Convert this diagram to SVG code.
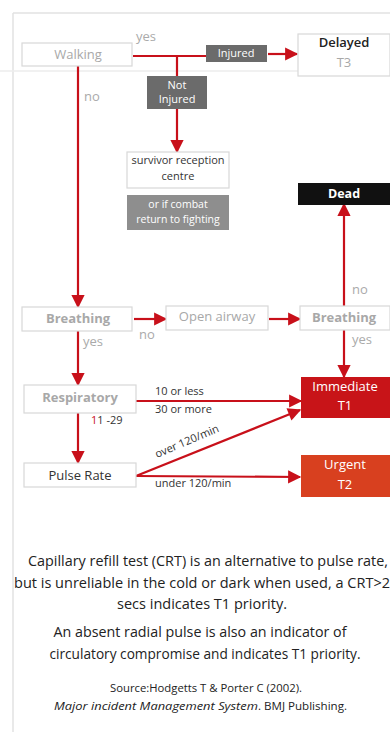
<svg xmlns="http://www.w3.org/2000/svg" width="390" height="732" viewBox="0 0 390 732">
<defs>
<style>
.box{fill:#fff;stroke:#d8d8d8;stroke-width:1.2}
.lbl{font-family:"Open Sans","Noto Sans",sans-serif;font-size:13px;fill:#a8a8a8;text-anchor:middle}
.dk{font-family:"Open Sans","Noto Sans",sans-serif;font-size:11px;fill:#333}
.wt{font-family:"Open Sans","Noto Sans",sans-serif;fill:#fff;text-anchor:middle}
.yn{font-family:"Open Sans","Noto Sans",sans-serif;font-size:13px;fill:#aaa}
.ln{stroke:#c8101a;stroke-width:2.2;fill:none}
.ar{stroke:#c8101a;stroke-width:2.2;fill:none;marker-end:url(#ah)}
.note{font-family:"Open Sans","Noto Sans",sans-serif;font-size:14px;fill:#222;text-anchor:middle}
.src{font-family:"Open Sans","Noto Sans",sans-serif;font-size:11.5px;fill:#222;text-anchor:start}
</style>
<marker id="ah" viewBox="0 0 10 10" refX="9" refY="5" markerWidth="6.5" markerHeight="6" orient="auto" markerUnits="strokeWidth">
<path d="M0,0 L10,5 L0,10 z" fill="#c8101a"/>
</marker>
</defs>
<rect width="390" height="732" fill="#fff"/>
<path d="M13,13 V732 M13,13 H390" stroke="#e2e2e2" stroke-width="1.5" fill="none"/>
<path d="M0,71 H390" stroke="#ececec" stroke-width="1.5"/>

<g id="connectors">
<path class="ln" d="M133,56 H206"/>
<path class="ar" d="M268,54 H297"/>
<path class="ln" d="M177,56 V76"/>
<path class="ar" d="M177,109 V152"/>
<path class="ar" d="M78,66 V307"/>
<path class="ar" d="M134,319 H166"/>
<path class="ar" d="M269,319 H300"/>
<path class="ar" d="M344,306 V204"/>
<path class="ar" d="M344,330 V377"/>
<path class="ar" d="M78,331 V385"/>
<path class="ar" d="M136,401 H301"/>
<path class="ar" d="M78,413 V463"/>
<path class="ar" d="M136,476 L300,410"/>
<path class="ar" d="M136,476 L300,477"/>
</g>

<g id="walking"><rect class="box" x="22" y="43" width="110" height="23"/><text class="lbl" x="78" y="59">Walking</text></g>
<text class="yn" x="136" y="41">yes</text>
<text class="yn" x="84" y="101">no</text>
<g id="injured"><rect x="206" y="45" width="61" height="17" fill="#6b6b6b"/><text class="wt" x="236" y="57" font-size="11">Injured</text></g>
<g id="delayed"><rect class="box" x="298" y="34" width="92" height="42"/><text x="344" y="47" font-family="'Open Sans',sans-serif" font-size="13" font-weight="600" fill="#222" text-anchor="middle">Delayed</text><text class="lbl" x="344" y="67" font-size="11">T3</text></g>
<g id="notinjured"><rect x="147" y="76" width="60" height="33" fill="#6b6b6b"/><text class="wt" x="177" y="89" font-size="11">Not</text><text class="wt" x="177" y="103" font-size="11">Injured</text></g>
<g id="survivor"><rect class="box" x="127" y="152" width="102" height="36"/><text class="dk" x="178" y="164" text-anchor="middle" font-size="10.5">survivor reception</text><text class="dk" x="178" y="180" text-anchor="middle" font-size="10.5">centre</text></g>
<g id="combat"><rect x="127" y="195" width="102" height="35" fill="#8e8e8e"/><text class="wt" x="178" y="208" font-size="10.5">or if combat</text><text class="wt" x="178" y="223" font-size="10.5">return to fighting</text></g>
<g id="dead"><rect x="298" y="183" width="92" height="22" fill="#111"/><text class="wt" x="344" y="198" font-size="12.5" font-weight="bold">Dead</text></g>

<g id="breathing1"><rect class="box" x="22" y="307" width="110" height="24"/><text class="lbl" x="78" y="323" font-weight="bold" font-size="12">Breathing</text></g>
<g id="openairway"><rect class="box" x="166" y="306" width="102" height="24"/><text class="lbl" x="217" y="321">Open airway</text></g>
<g id="breathing2"><rect class="box" x="300" y="306" width="90" height="24"/><text class="lbl" x="344" y="322" font-weight="bold" font-size="12">Breathing</text></g>
<text class="yn" x="139" y="339">no</text>
<text class="yn" x="352" y="294">no</text>
<text class="yn" x="352" y="344">yes</text>
<text class="yn" x="83" y="346">yes</text>

<g id="respiratory"><rect class="box" x="24" y="385" width="112" height="28"/><text class="lbl" x="80" y="402" font-weight="bold" font-size="12">Respiratory</text></g>
<text class="dk" x="155" y="395">10 or less</text>
<text class="dk" x="155" y="413">30 or more</text>
<text class="dk" x="91" y="424" font-size="12"><tspan fill="#c8101a">1</tspan>1 -29</text>
<g id="immediate"><rect x="301" y="377" width="89" height="41" fill="#c81418"/><text class="wt" x="345" y="391" font-size="13">Immediate</text><text class="wt" x="345" y="410" font-size="13">T1</text></g>
<g id="pulserate"><rect class="box" x="24" y="463" width="112" height="24"/><text x="80" y="480" font-family="'Open Sans','Noto Sans',sans-serif" font-size="13" fill="#333" text-anchor="middle">Pulse Rate</text></g>
<text class="dk" x="157" y="458" transform="rotate(-23 157 458)">over 120/min</text>
<text class="dk" x="155" y="487">under 120/min</text>
<g id="urgent"><rect x="301" y="455" width="89" height="42" fill="#d8401f"/><text class="wt" x="345" y="469" font-size="13">Urgent</text><text class="wt" x="345" y="489" font-size="13">T2</text></g>

<g id="notes">
<text class="note" x="208" y="566" textLength="360" lengthAdjust="spacingAndGlyphs">Capillary refill test (CRT) is an alternative to pulse rate,</text>
<text class="note" x="202" y="588" textLength="376" lengthAdjust="spacingAndGlyphs">but is unreliable in the cold or dark when used, a CRT&gt;2</text>
<text class="note" x="202" y="609" textLength="170" lengthAdjust="spacingAndGlyphs">secs indicates T1 priority.</text>
<text class="note" x="200" y="637" textLength="293" lengthAdjust="spacingAndGlyphs">An absent radial pulse is also an indicator of</text>
<text class="note" x="205" y="659" textLength="311" lengthAdjust="spacingAndGlyphs">circulatory compromise and indicates T1 priority.</text>
<text class="src" x="110" y="692" textLength="192" lengthAdjust="spacingAndGlyphs">Source:Hodgetts T &amp; Porter C (2002).</text>
<text class="src" x="54" y="710" font-style="italic" textLength="204" lengthAdjust="spacingAndGlyphs">Major incident Management System</text>
<text class="src" x="258" y="710" textLength="89" lengthAdjust="spacingAndGlyphs">. BMJ Publishing.</text>
</g>
</svg>
